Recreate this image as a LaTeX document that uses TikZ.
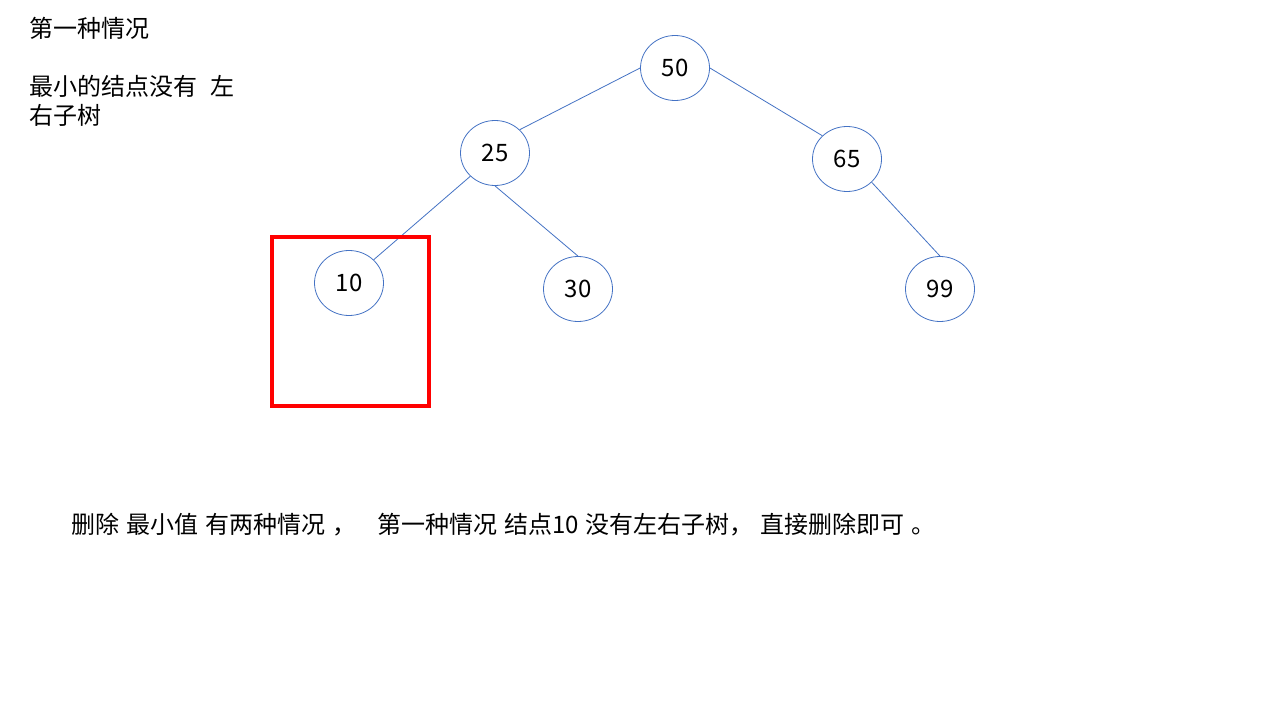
\documentclass[tikz,border=0pt]{standalone}
\usepackage{fontspec}
\setmainfont[WordSpace=1.3]{Noto Sans CJK SC}
\usetikzlibrary{shapes.geometric}
\definecolor{nodeblue}{HTML}{4472C4}
\tikzset{
  bstnode/.style={ellipse, draw=nodeblue, line width=0.6pt, minimum width=51.75pt, minimum height=48.75pt, inner sep=0pt, font=\fontsize{18}{21}\selectfont},
  edge/.style={draw=nodeblue, line width=0.6pt},
  txt/.style={anchor=west, inner sep=0pt, font=\fontsize{18}{21.75}\selectfont}
}
\begin{document}
\begin{tikzpicture}[x=0.75pt,y=-0.75pt]
\useasboundingbox (0,0) rectangle (1280,720);
\fill[white] (0,0) rectangle (1280,720);
\node[bstnode] (n50) at (675,68) {50};
\node[bstnode] (n25) at (495,153) {25};
\node[bstnode] (n65) at (847,159) {65};
\node[bstnode] (n10) at (349,283) {10};
\node[bstnode] (n30) at (578,289) {30};
\node[bstnode] (n99) at (940,289) {99};
\draw[edge] (n50.west) -- (n25.north east);
\draw[edge] (n50.east) -- (n65.north west);
\draw[edge] (n25.south west) -- (n10.north east);
\draw[edge] (n25.south) -- (n30.north);
\draw[edge] (n65.south east) -- (n99.north);
\draw[red, line width=3pt] (272,237) rectangle (429,406);
\node[txt] (t1) at (29,28) {第一种情况};
\node[txt] (t2) at (29,86) {最小的结点没有\hspace{0.55em}左};
\node[txt] (t3) at (29,115) {右子树};
\node[txt] (t4) at (71,525) {删除 最小值 有两种情况 ，~~~第一种情况 结点10 没有左右子树， 直接删除即可 。};
\end{tikzpicture}
\end{document}
